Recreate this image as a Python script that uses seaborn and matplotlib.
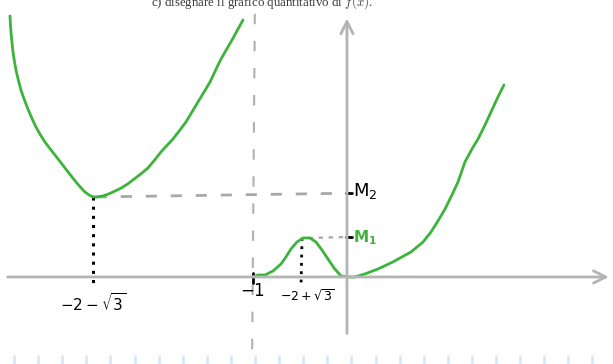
import numpy as np
import pandas as pd
import matplotlib
matplotlib.use("Agg")
import matplotlib.pyplot as plt
import seaborn as sns

# Qualitative sketch of f(x): branch left of the asymptote x = -1 and branch to its right
left_x = [-3.585, -3.580, -3.574, -3.564, -3.553, -3.538, -3.521, -3.496, -3.468, -3.433,
          -3.394, -3.352, -3.309, -3.262, -3.213, -3.160, -3.106, -3.053, -3.000, -2.940,
          -2.883, -2.835, -2.787, -2.745, -2.702, -2.649, -2.596, -2.543, -2.489, -2.436,
          -2.383, -2.330, -2.277, -2.197, -2.117, -2.048, -1.979, -1.915, -1.851, -1.782,
          -1.713, -1.649, -1.585, -1.521, -1.457, -1.399, -1.340, -1.282, -1.223, -1.165,
          -1.106]
left_y = [2.777, 2.690, 2.606, 2.500, 2.394, 2.298, 2.202, 2.095, 1.989, 1.888,
          1.787, 1.690, 1.596, 1.514, 1.436, 1.366, 1.298, 1.229, 1.160, 1.083,
          1.011, 0.955, 0.904, 0.873, 0.851, 0.853, 0.862, 0.880, 0.904, 0.929,
          0.957, 0.992, 1.032, 1.093, 1.160, 1.242, 1.330, 1.400, 1.468, 1.557,
          1.649, 1.755, 1.862, 1.967, 2.074, 2.198, 2.319, 2.420, 2.521, 2.628,
          2.734]

right_x = [-1.000, -0.947, -0.872, -0.787, -0.702, -0.649, -0.596, -0.532, -0.468, -0.394,
           -0.330, -0.266, -0.202, -0.138, -0.064, 0.011, 0.085, 0.191, 0.330, 0.489,
           0.681, 0.809, 0.894, 0.968, 1.043, 1.117, 1.181, 1.255, 1.330, 1.394,
           1.468, 1.532, 1.606, 1.670]
right_y = [0.000, 0.021, 0.021, 0.064, 0.138, 0.213, 0.298, 0.372, 0.415, 0.415,
           0.372, 0.287, 0.191, 0.096, 0.011, 0.000, 0.000, 0.032, 0.085, 0.160,
           0.266, 0.372, 0.479, 0.596, 0.723, 0.872, 1.011, 1.223, 1.362, 1.468,
           1.617, 1.755, 1.915, 2.043]

# Special points (sketch positions) and their labels
asymptote_x = -1.0
min_left_x, M2 = -2.702, 0.851
max_x, M1 = -0.468, 0.415
tick_pos = [min_left_x, asymptote_x, max_x]
tick_labels = [r"$-2-\sqrt{3}$", r"$-1$", r"$-2+\sqrt{3}$"]
level_labels = [r"$\mathregular{M_2}$", r"$\mathregular{M_1}$"]

GREEN = "#3cb43c"
AXIS = "#b4b4b4"
GUIDE = "#a8a8a8"

sns.set_style("white")
plt.rcParams["font.family"] = ["DejaVu Sans"]

fig = plt.figure(figsize=(6.13, 3.64), dpi=100)
ax = fig.add_axes([0, 0, 1, 1])
ax.set_xlim(-3.691, 2.830)
ax.set_ylim(-0.926, 2.947)
ax.axis("off")

# axes with arrowheads
ax.annotate("", xy=(2.815, 0), xytext=(-3.64, 0),
            arrowprops=dict(arrowstyle="->", color=AXIS, lw=2, mutation_scale=22))
ax.annotate("", xy=(0, 2.78), xytext=(0, -0.63),
            arrowprops=dict(arrowstyle="->", color=AXIS, lw=2, mutation_scale=22))

# vertical asymptote
ax.plot([asymptote_x + 0.02, asymptote_x - 0.01], [2.8, -0.93], color="#b0b0b0",
        lw=1.5, dashes=(5, 8))

# guide lines to the y axis
ax.plot([min_left_x + 0.03, 0], [M2, M2 + 0.04], color=GUIDE, lw=2, dashes=(4, 5))
ax.plot([max_x + 0.06, 0], [M1, M1 + 0.01], color=GUIDE, lw=1.6, dashes=(2, 2.5))

# dotted drop lines to the x axis
ax.plot([min_left_x, min_left_x], [M2, -0.06], color="black", lw=2.2, ls=(0, (1, 2)))
ax.plot([max_x - 0.01, max_x - 0.02], [M1, -0.06], color="black", lw=2.0, ls=(0, (1, 2)))
ax.plot([asymptote_x, asymptote_x], [-0.06, 0.04], color="black", lw=2)

# the two branches
df_left = pd.DataFrame({"x": left_x, "y": left_y})
df_right = pd.DataFrame({"x": right_x, "y": right_y})
sns.lineplot(data=df_left, x="x", y="y", ax=ax, color=GREEN, lw=2, sort=False,
             estimator=None)
sns.lineplot(data=df_right, x="x", y="y", ax=ax, color=GREEN, lw=2, sort=False,
             estimator=None)

# tick labels on the x axis
label_dx = [0.0, 0.0, 0.05]
label_y = [-0.28, -0.15, -0.21]
label_size = [11, 12, 9]
for xp, txt, dx, yy, fs in zip(tick_pos, tick_labels, label_dx, label_y, label_size):
    ax.text(xp + dx, yy, txt, ha="center", va="center", fontsize=fs,
            color="black", math_fontfamily="dejavusans")

# level labels on the y axis
ax.plot([-0.01, 0.05], [M2 + 0.04, M2 + 0.04], color="black", lw=2)
ax.text(0.06, M2 + 0.06, level_labels[0], ha="left", va="center", fontsize=13,
        color="black")
ax.plot([-0.01, 0.05], [M1 + 0.01, M1 + 0.01], color="black", lw=2)
ax.text(0.06, M1, level_labels[1], ha="left", va="center", fontsize=11,
        color=GREEN, fontweight="bold")

# exercise line at the top of the page
fig.text(0.428, 1 - 5.5 / 364, r"c) disegnare il grafico quantitativo di $f(x)$.",
         ha="center", va="baseline", fontsize=9.3, color="#3a3a3a",
         family="Liberation Serif", math_fontfamily="cm")

# faint ruler marks along the bottom edge
ruler_x = ax.get_xlim()[0] + (np.arange(14, 613, 24.1)) / 94
ax.vlines(ruler_x, -0.926, -0.835, color="#d6eafb", lw=2)

fig.savefig("out.png", dpi=100)
